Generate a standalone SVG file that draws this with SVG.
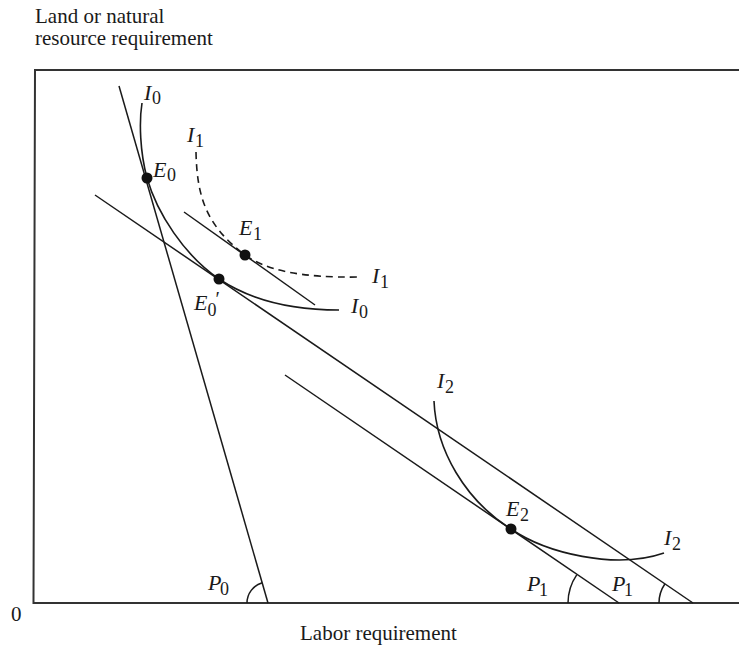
<svg xmlns="http://www.w3.org/2000/svg" width="739" height="645" viewBox="0 0 739 645">
<style>
.ax{stroke:#333;stroke-width:2;fill:none}
.ln{stroke:#1a1a1a;stroke-width:1.5;fill:none}
.cv{stroke:#1a1a1a;stroke-width:1.6;fill:none}
.dash{stroke-dasharray:7,5}
.t{font-family:"Liberation Serif","Times New Roman",serif;font-size:21px;fill:#1a1a1a}
.it{font-family:"Liberation Serif","Times New Roman",serif;font-size:22px;font-style:italic;fill:#1a1a1a}
.sb{font-family:"Liberation Serif","Times New Roman",serif;font-size:18px;font-style:normal;fill:#1a1a1a}
.pr{font-family:"Liberation Serif","Times New Roman",serif;font-size:20px;font-style:normal;fill:#1a1a1a}
.pt{fill:#111}
</style>
<rect width="739" height="645" fill="#fff"/>
<g id="axes">
<path class="ax" d="M739,70 H35 L33.5,603 H739"/>
<text class="t" x="35" y="23">Land or natural</text>
<text class="t" x="35" y="45">resource requirement</text>
<text class="t" x="300" y="640">Labor requirement</text>
<text class="t" x="11" y="621">0</text>
</g>
<g id="connectors">
<line class="ln" x1="119" y1="86" x2="268" y2="603"/>
<line class="ln" x1="95" y1="195" x2="693" y2="603"/>
<line class="ln" x1="184" y1="212" x2="315" y2="305"/>
<line class="ln" x1="285" y1="375" x2="619" y2="603"/>
<path class="ln" d="M247,603 A21,21 0 0 1 262.2,582.8"/>
<path class="ln" d="M568,603 A50,50 0 0 1 576.7,574.8"/>
<path class="ln" d="M659,603 A34,34 0 0 1 665,583.8"/>
</g>
<g id="I0">
<path class="cv" d="M142,103 C139,122 140,152 147,178 C157,213 184,255 219,279 C249,299 290,310 339,310"/>
<text class="it" x="144" y="100">I</text><text class="sb" x="152" y="104">0</text>
<text class="it" x="351" y="313">I</text><text class="sb" x="359" y="318">0</text>
</g>
<g id="I1">
<path class="cv dash" d="M196,152 C197,195 205,225 245,255 C266,270 300,278 360,277"/>
<text class="it" x="187" y="142">I</text><text class="sb" x="195" y="147">1</text>
<text class="it" x="372" y="283">I</text><text class="sb" x="380" y="288">1</text>
</g>
<g id="I2">
<path class="cv" d="M434,401 C436,450 465,500 511,529 C546,553 615,570 664,553"/>
<text class="it" x="437" y="388">I</text><text class="sb" x="445" y="393">2</text>
<text class="it" x="664" y="545">I</text><text class="sb" x="672" y="550">2</text>
</g>
<g id="E0">
<circle class="pt" cx="147" cy="178" r="5.5"/>
<text class="it" x="153" y="177">E</text><text class="sb" x="167" y="181">0</text>
</g>
<g id="E0p">
<circle class="pt" cx="219" cy="279" r="5.5"/>
<text class="it" x="194" y="310">E<tspan class="sb" dy="6">0</tspan><tspan class="pr" dx="-1" dy="-10">′</tspan></text>
</g>
<g id="E1">
<circle class="pt" cx="245" cy="255" r="5.5"/>
<text class="it" x="239" y="235">E</text><text class="sb" x="253" y="240">1</text>
</g>
<g id="E2">
<circle class="pt" cx="511" cy="529" r="5.5"/>
<text class="it" x="506" y="516">E</text><text class="sb" x="520" y="521">2</text>
</g>
<g id="P">
<text class="it" x="208" y="590">P</text><text class="sb" x="220" y="595">0</text>
<text class="it" x="527" y="591">P</text><text class="sb" x="539" y="596">1</text>
<text class="it" x="612" y="591">P</text><text class="sb" x="624" y="596">1</text>
</g>
</svg>
